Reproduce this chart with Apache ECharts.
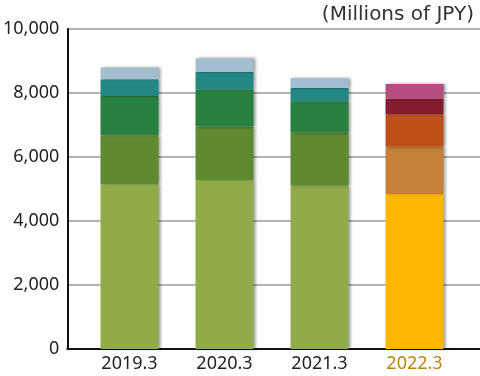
<!DOCTYPE html>
<html><head><meta charset="utf-8">
<script src="https://cdn.jsdelivr.net/npm/echarts@6/dist/echarts.min.js"></script>
<style>html,body{margin:0;padding:0;background:#fff}#c{width:480px;height:376px}</style>
</head><body><div id="c"></div>
<script>
const categories = ['2019.3', '2020.3', '2021.3', '2022.3'];
const seg1 = [5150, 5270, 5100, 4840];
const seg2 = [1530, 1680, 1660, 1480];
const seg3 = [1230, 1160, 980, 1010];
const seg4 = [520, 550, 420, 490];
const seg5 = [370, 420, 300, 460];
const yTicks = [0, 2000, 4000, 6000, 8000, 10000];
const unitLabel = '(Millions of JPY)';

const oldColors = ['#91ab4a', '#5f8a30', '#288041', '#238883', '#a3bfcf'];
const newColors = ['#fdb700', '#c6803a', '#bd5019', '#821d2e', '#b54d80'];
const segs = [seg1, seg2, seg3, seg4, seg5];
const font = '"Noto Sans", sans-serif';

const series = segs.map((arr, si) => ({
  type: 'bar', stack: 'total', xAxisIndex: 1, yAxisIndex: 1, barWidth: 58,
  data: arr.map((v, i) => ({
    value: v,
    itemStyle: { color: i === categories.length - 1 ? newColors[si] : oldColors[si] }
  })),
  itemStyle: { shadowColor: 'rgba(0,0,0,0.4)', shadowBlur: 3, shadowOffsetX: 2, shadowOffsetY: 0 },
  emphasis: { disabled: true }
}));

const chart = echarts.init(document.getElementById('c'));
chart.setOption({
  animation: false,
  title: { text: unitLabel, right: 1, top: 0, textStyle: { fontFamily: '"DejaVu Sans", sans-serif', fontSize: 20, fontWeight: 'normal', color: '#333' } },
  grid: [
    { left: 66, right: 0, top: 29, bottom: 27 },
    { left: 82, right: 18, top: 29, bottom: 27 }
  ],
  xAxis: [
    { type: 'value', gridIndex: 0, min: 0, max: 1, axisLine: { show: true, onZero: false, lineStyle: { color: '#111', width: 2 } }, axisTick: { show: false }, axisLabel: { show: false }, splitLine: { show: false } },
    { type: 'category', gridIndex: 1, data: categories, axisLine: { show: false }, axisTick: { show: false },
      axisLabel: { margin: 6, fontFamily: font, fontSize: 18,
        color: (v, i) => i === categories.length - 1 ? '#b8860b' : '#222' } }
  ],
  yAxis: [
    { type: 'value', gridIndex: 0, min: yTicks[0], max: yTicks[yTicks.length - 1], interval: 2000,
      axisLine: { show: true, lineStyle: { color: '#111', width: 2 } }, axisTick: { show: false },
      axisLabel: { margin: 8, fontFamily: font, fontSize: 18, color: '#222', formatter: v => v.toLocaleString('en-US') },
      splitLine: { show: true, lineStyle: { color: '#999', width: 1.5 } } },
    { type: 'value', gridIndex: 1, min: yTicks[0], max: yTicks[yTicks.length - 1], show: false }
  ],
  series: series
});
</script></body></html>
